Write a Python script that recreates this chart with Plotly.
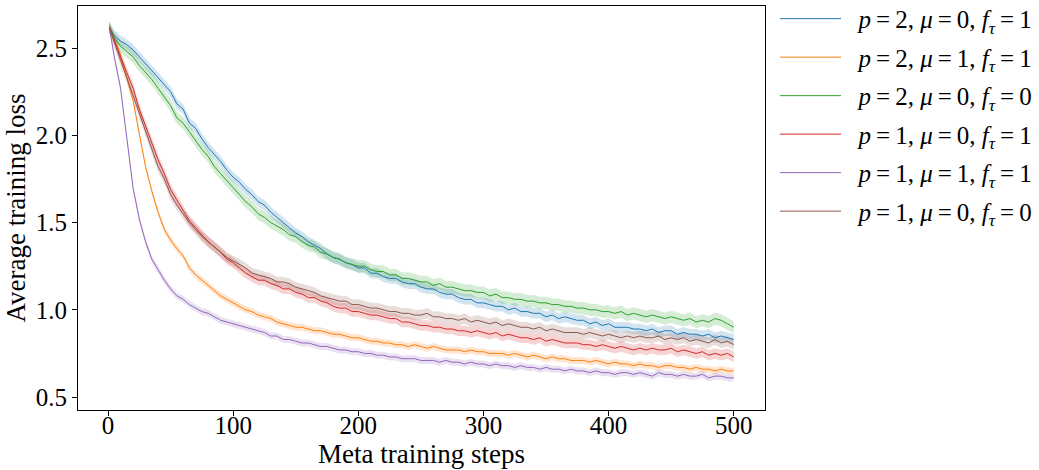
import numpy as np
import plotly.graph_objects as go

steps = [1] + list(range(5, 501, 5))

blue = [2.62, 2.57, 2.54, 2.52, 2.49, 2.45, 2.41, 2.37, 2.33, 2.29, 2.25, 2.18, 2.15, 2.07, 2.04, 1.98, 1.93, 1.89, 1.85, 1.80, 1.76,
        1.73, 1.69, 1.66, 1.62, 1.60, 1.56, 1.53, 1.50, 1.47, 1.44, 1.42, 1.39, 1.37, 1.35, 1.32, 1.30, 1.29, 1.27, 1.26, 1.24,
        1.24, 1.21, 1.21, 1.19, 1.18, 1.18, 1.16, 1.15, 1.15, 1.13, 1.12, 1.12, 1.10, 1.09, 1.09, 1.07, 1.06, 1.06, 1.04, 1.04,
        1.03, 1.02, 1.02, 1.00, 1.01, 0.99, 0.99, 0.98, 0.98, 0.96, 0.97, 0.95, 0.96, 0.95, 0.94, 0.94, 0.92, 0.93, 0.91, 0.92,
        0.90, 0.90, 0.90, 0.89, 0.89, 0.88, 0.89, 0.87, 0.88, 0.88, 0.86, 0.87, 0.86, 0.86, 0.85, 0.86, 0.84, 0.85, 0.84, 0.83]

orange = [2.62, 2.55, 2.46, 2.33, 2.20, 2.01, 1.82, 1.68, 1.56, 1.46, 1.40, 1.35, 1.31, 1.24, 1.20, 1.17, 1.14, 1.11, 1.08, 1.06, 1.04,
          1.02, 1.00, 0.99, 0.97, 0.96, 0.95, 0.93, 0.92, 0.91, 0.90, 0.90, 0.89, 0.88, 0.88, 0.87, 0.86, 0.86, 0.85, 0.84, 0.84,
          0.83, 0.82, 0.82, 0.81, 0.81, 0.80, 0.80, 0.79, 0.80, 0.79, 0.78, 0.79, 0.78, 0.77, 0.77, 0.77, 0.76, 0.77, 0.76, 0.76,
          0.75, 0.75, 0.75, 0.74, 0.75, 0.74, 0.73, 0.74, 0.73, 0.72, 0.73, 0.72, 0.72, 0.71, 0.71, 0.71, 0.70, 0.71, 0.70, 0.69,
          0.70, 0.69, 0.69, 0.68, 0.69, 0.68, 0.68, 0.67, 0.68, 0.68, 0.67, 0.67, 0.66, 0.67, 0.66, 0.66, 0.65, 0.66, 0.65, 0.65]

green = [2.62, 2.56, 2.51, 2.48, 2.45, 2.40, 2.36, 2.32, 2.27, 2.22, 2.17, 2.10, 2.07, 2.02, 1.97, 1.92, 1.88, 1.82, 1.78, 1.74, 1.70,
         1.66, 1.62, 1.59, 1.55, 1.53, 1.50, 1.48, 1.46, 1.43, 1.42, 1.39, 1.37, 1.36, 1.33, 1.32, 1.30, 1.29, 1.27, 1.26, 1.25,
         1.25, 1.23, 1.22, 1.22, 1.20, 1.20, 1.18, 1.18, 1.17, 1.16, 1.16, 1.14, 1.15, 1.13, 1.13, 1.12, 1.11, 1.11, 1.10, 1.10,
         1.08, 1.09, 1.07, 1.07, 1.06, 1.06, 1.05, 1.05, 1.04, 1.04, 1.03, 1.03, 1.02, 1.02, 1.01, 1.01, 1.00, 1.00, 0.99, 0.99,
         0.98, 0.99, 0.97, 0.98, 0.97, 0.96, 0.97, 0.96, 0.95, 0.96, 0.95, 0.94, 0.95, 0.93, 0.94, 0.93, 0.95, 0.94, 0.92, 0.90]

red = [2.62, 2.54, 2.45, 2.36, 2.27, 2.15, 2.05, 1.96, 1.86, 1.78, 1.69, 1.63, 1.57, 1.51, 1.47, 1.43, 1.39, 1.36, 1.33, 1.29, 1.27,
       1.24, 1.21, 1.19, 1.17, 1.17, 1.15, 1.14, 1.12, 1.12, 1.10, 1.09, 1.07, 1.07, 1.05, 1.04, 1.02, 1.01, 1.01, 0.99, 0.99,
       0.98, 0.97, 0.97, 0.96, 0.95, 0.95, 0.93, 0.93, 0.92, 0.91, 0.91, 0.90, 0.90, 0.89, 0.89, 0.88, 0.88, 0.87, 0.88, 0.87,
       0.86, 0.87, 0.85, 0.86, 0.85, 0.84, 0.84, 0.83, 0.84, 0.82, 0.83, 0.82, 0.81, 0.81, 0.81, 0.80, 0.80, 0.79, 0.80, 0.79,
       0.78, 0.79, 0.78, 0.77, 0.78, 0.77, 0.78, 0.77, 0.77, 0.78, 0.76, 0.77, 0.76, 0.75, 0.76, 0.74, 0.75, 0.74, 0.75, 0.73]

purple = [2.62, 2.45, 2.27, 1.98, 1.70, 1.52, 1.39, 1.29, 1.23, 1.17, 1.12, 1.08, 1.06, 1.03, 1.01, 0.99, 0.98, 0.96, 0.94, 0.93, 0.92,
          0.91, 0.90, 0.89, 0.88, 0.87, 0.85, 0.85, 0.83, 0.83, 0.82, 0.81, 0.81, 0.80, 0.79, 0.79, 0.78, 0.77, 0.77, 0.76, 0.76,
          0.75, 0.75, 0.74, 0.74, 0.73, 0.73, 0.72, 0.72, 0.72, 0.71, 0.71, 0.71, 0.70, 0.71, 0.70, 0.70, 0.69, 0.70, 0.69, 0.69,
          0.68, 0.69, 0.68, 0.68, 0.67, 0.68, 0.67, 0.67, 0.66, 0.67, 0.66, 0.66, 0.65, 0.66, 0.65, 0.65, 0.64, 0.65, 0.64, 0.64,
          0.63, 0.64, 0.64, 0.63, 0.64, 0.63, 0.62, 0.64, 0.63, 0.63, 0.62, 0.63, 0.62, 0.62, 0.63, 0.61, 0.62, 0.62, 0.61, 0.61]

brown = [2.62, 2.53, 2.43, 2.33, 2.23, 2.12, 2.02, 1.92, 1.82, 1.75, 1.66, 1.60, 1.55, 1.50, 1.46, 1.42, 1.39, 1.36, 1.33, 1.30, 1.28,
         1.26, 1.24, 1.21, 1.20, 1.19, 1.18, 1.16, 1.16, 1.15, 1.13, 1.12, 1.11, 1.10, 1.08, 1.07, 1.06, 1.05, 1.05, 1.03, 1.03,
         1.02, 1.01, 1.01, 1.00, 0.99, 0.99, 0.98, 0.98, 0.97, 0.97, 0.98, 0.96, 0.96, 0.95, 0.95, 0.94, 0.95, 0.93, 0.94, 0.93,
         0.92, 0.93, 0.91, 0.92, 0.91, 0.90, 0.90, 0.89, 0.90, 0.88, 0.89, 0.88, 0.87, 0.87, 0.87, 0.86, 0.87, 0.86, 0.85, 0.86,
         0.85, 0.84, 0.85, 0.84, 0.85, 0.84, 0.84, 0.85, 0.83, 0.84, 0.83, 0.84, 0.82, 0.83, 0.82, 0.81, 0.83, 0.81, 0.82, 0.80]

T = "\u2009"
labels = [
    f"<i>p</i>{T}={T}2, <i>μ</i>{T}={T}0, <i>f</i><sub><i>τ</i></sub>{T}={T}1",
    f"<i>p</i>{T}={T}2, <i>μ</i>{T}={T}1, <i>f</i><sub><i>τ</i></sub>{T}={T}1",
    f"<i>p</i>{T}={T}2, <i>μ</i>{T}={T}0, <i>f</i><sub><i>τ</i></sub>{T}={T}0",
    f"<i>p</i>{T}={T}1, <i>μ</i>{T}={T}0, <i>f</i><sub><i>τ</i></sub>{T}={T}1",
    f"<i>p</i>{T}={T}1, <i>μ</i>{T}={T}1, <i>f</i><sub><i>τ</i></sub>{T}={T}1",
    f"<i>p</i>{T}={T}1, <i>μ</i>{T}={T}0, <i>f</i><sub><i>τ</i></sub>{T}={T}0",
]
series = [blue, orange, green, red, purple, brown]
band_halfwidth = [0.03, 0.02, 0.035, 0.03, 0.02, 0.03]
colors = ["#1f77b4", "#ff7f0e", "#2ca02c", "#d62728", "#9467bd", "#8c564b"]

FONT = "Liberation Serif"


def rgba(hexc, a):
    h = hexc.lstrip("#")
    return "rgba(%d,%d,%d,%s)" % (int(h[0:2], 16), int(h[2:4], 16), int(h[4:6], 16), a)


fig = go.Figure()
x = np.array(steps)
for i, (vals, col, bw) in enumerate(zip(series, colors, band_halfwidth)):
    v = np.array(vals)
    fig.add_trace(go.Scatter(x=np.concatenate([x, x[::-1]]),
                             y=np.concatenate([v + bw, (v - bw)[::-1]]),
                             fill="toself", fillcolor=rgba(col, 0.2), line=dict(width=0),
                             hoverinfo="skip", showlegend=False, legendgroup=str(i)))
for i, (vals, lab, col) in enumerate(zip(series, labels, colors)):
    fig.add_trace(go.Scatter(x=steps, y=vals, mode="lines", name="\u00a0\u00a0" + lab,
                             line=dict(color=col, width=1), legendgroup=str(i)))

axis_common = dict(showline=True, mirror=True, linecolor="black", linewidth=1,
                   ticks="outside", ticklen=5, tickwidth=1, tickcolor="black",
                   showgrid=False, zeroline=False, automargin=False,
                   tickfont=dict(family=FONT, size=25, color="black"))

fig.update_layout(
    width=1039, height=470,
    margin=dict(l=78, r=274, t=6, b=60, autoexpand=False),
    plot_bgcolor="white", paper_bgcolor="white",
    font=dict(family=FONT, color="black"),
    xaxis=dict(range=[-24, 525], tickvals=[0, 100, 200, 300, 400, 500],
               ticklabelstandoff=-12,
               title=dict(text="Meta training steps", font=dict(family=FONT, size=27), standoff=0),
               **axis_common),
    yaxis=dict(range=[0.426, 2.741], tickvals=[0.5, 1.0, 1.5, 2.0, 2.5], tickformat=".1f",
               title=dict(text="Average training loss", font=dict(family=FONT, size=27), standoff=2),
               **axis_common),
    legend=dict(x=1.0146, y=1.025, xanchor="left", yanchor="top",
                font=dict(family=FONT, size=25, color="black"),
                traceorder="grouped", tracegroupgap=3, itemwidth=61, maxheight=460,
                bgcolor="rgba(0,0,0,0)"),
)

fig.write_html("out.html", config={"displayModeBar": False},
               post_script="document.body.style.margin='0';document.body.style.overflow='hidden';")
